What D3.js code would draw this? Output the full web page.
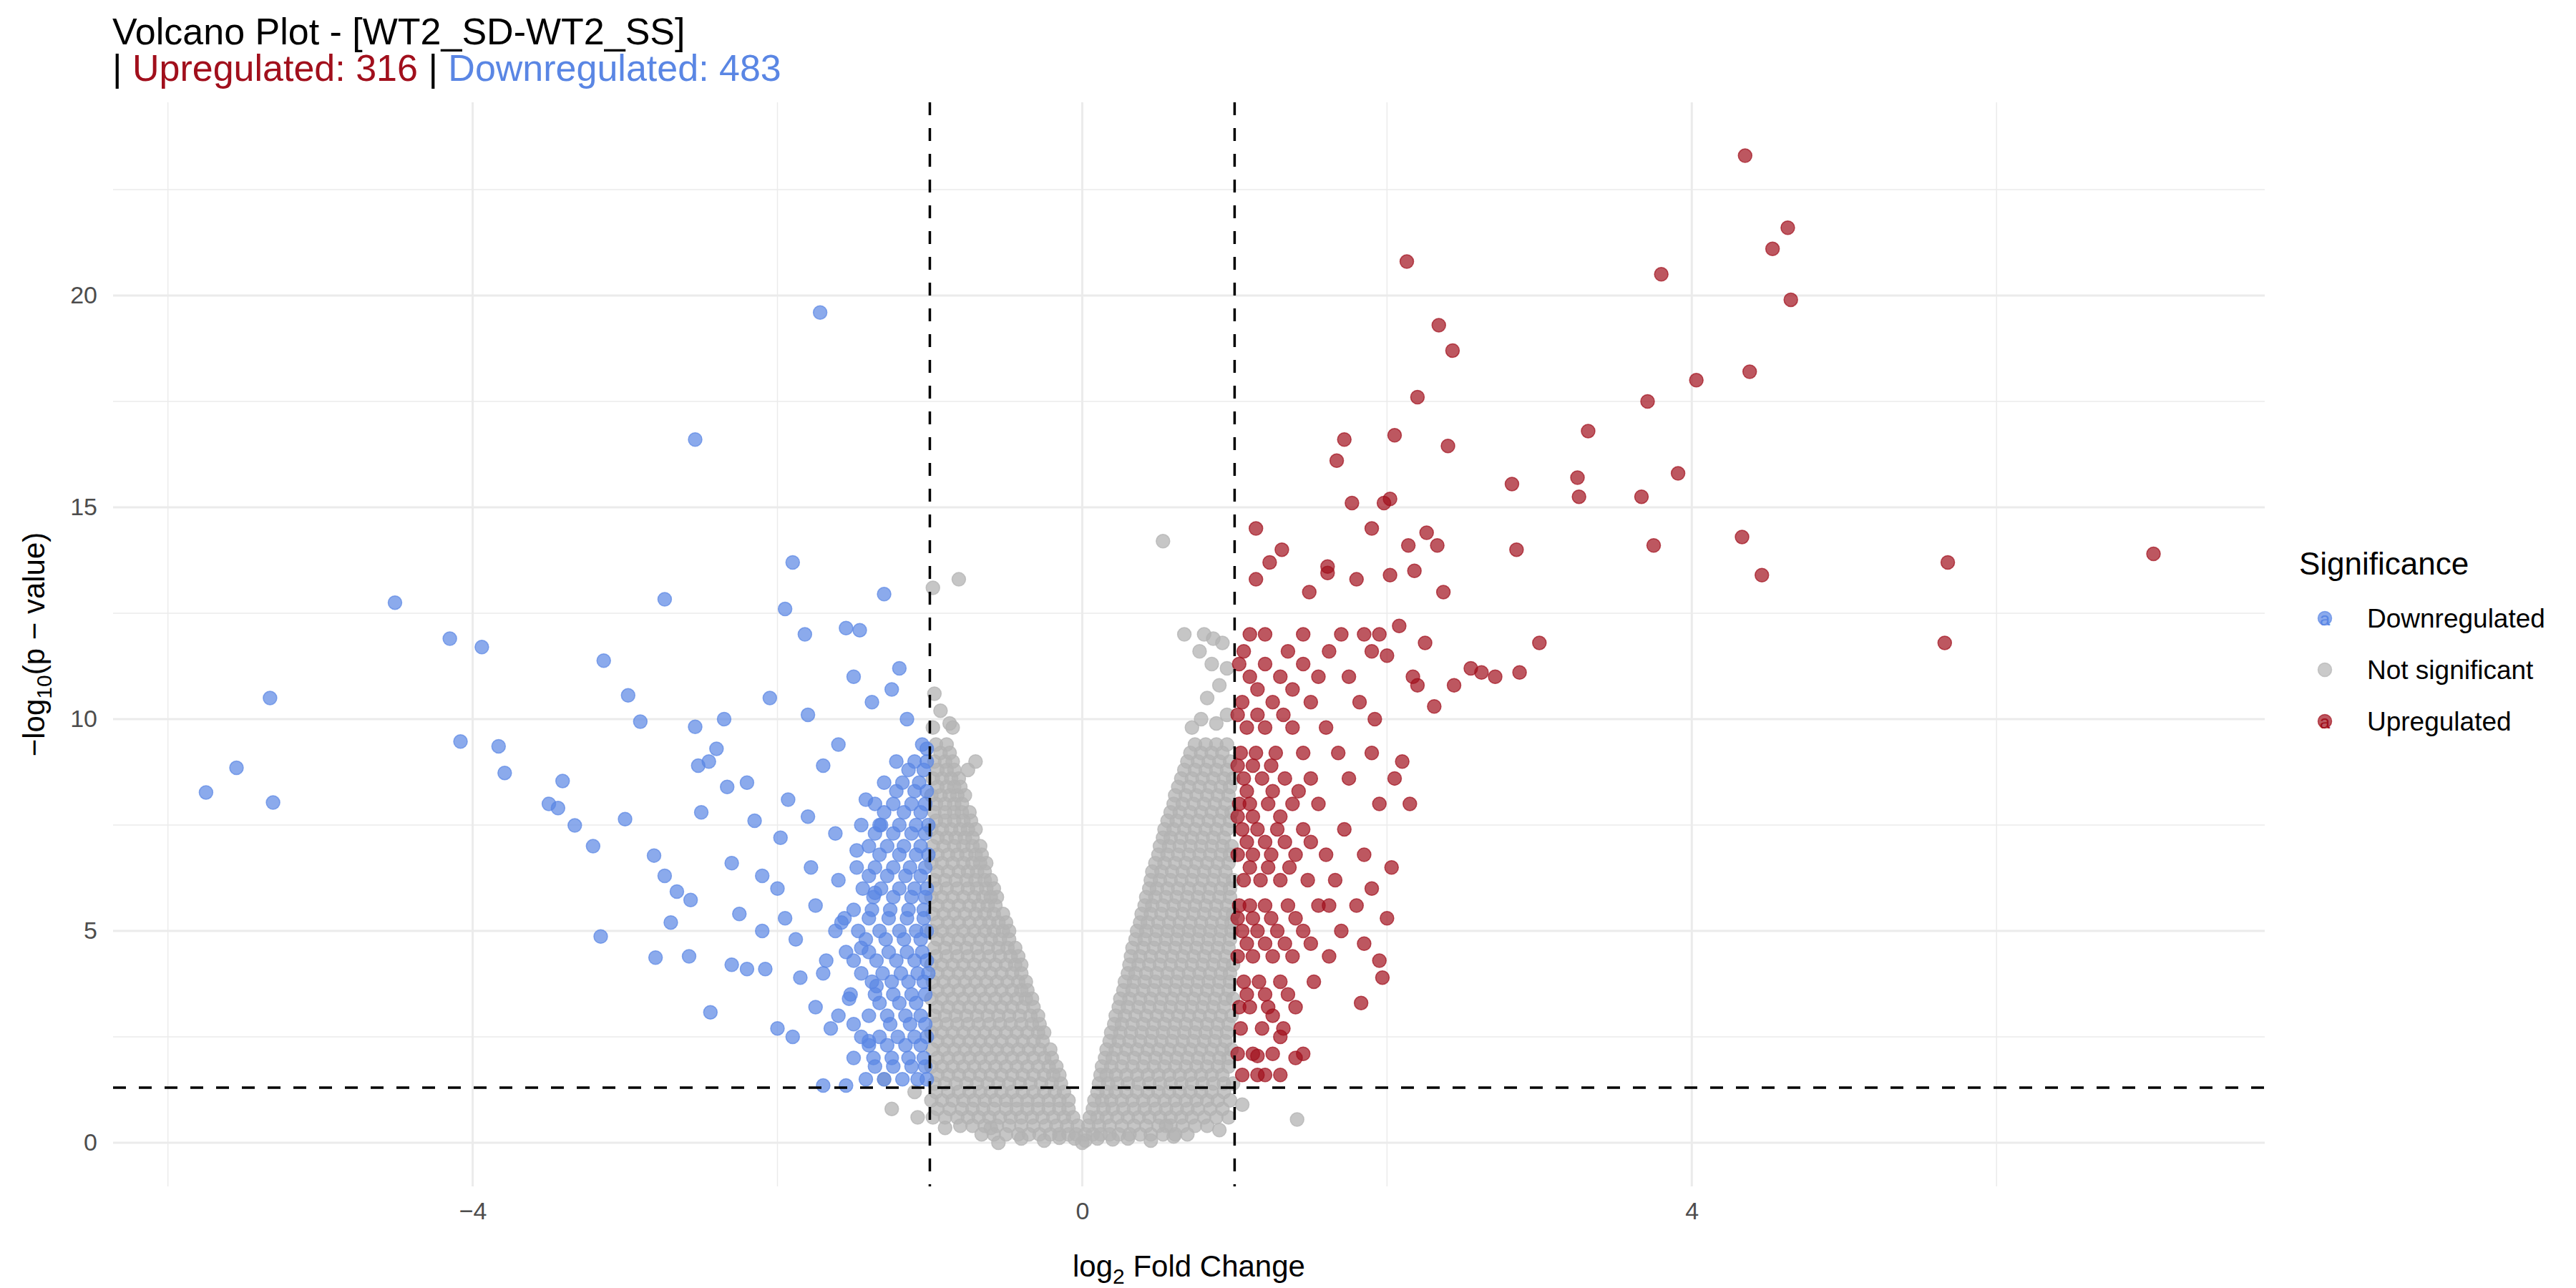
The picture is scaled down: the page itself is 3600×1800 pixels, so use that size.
<!DOCTYPE html>
<html>
<head>
<meta charset="utf-8">
<script src="https://cdn.jsdelivr.net/npm/d3@7"></script>
<style>
  body { margin: 0; background: #fff; }
  text { font-family: "Liberation Sans", Arial, sans-serif; }
</style>
</head>
<body>
<script>
// values
var xTicks = [-4, 0, 4];
var xMinor = [-6, -2, 2, 6];
var yTicks = [0, 5, 10, 15, 20];
var yMinor = [2.5, 7.5, 12.5, 17.5, 22.5];
var fcCut = [-1, 1];
var pCut = 1.3;
var counts = { up: 316, down: 483 };
var legendLabels = ["Downregulated", "Not significant", "Upregulated"];

// grey cloud, one row per -log10(p) band: [y, xs]
var greyBands = [
  [0.2, [-0.66,-0.58,-0.5,-0.42,-0.35,-0.28,-0.21,-0.15,-0.09,-0.04,0.02,0.07,0.12,0.18,0.24,0.31,0.38,0.45,0.53,0.61,0.69]],
  [0.6, [-0.98,-0.9,-0.82,-0.75,-0.68,-0.61,-0.54,-0.47,-0.4,-0.33,-0.26,-0.19,-0.12,-0.06,0.05,0.1,0.16,0.23,0.3,0.37,0.44,0.51,0.58,0.65,0.72,0.8,0.88,0.96]],
  [1.0, [-0.99,-0.92,-0.85,-0.78,-0.71,-0.64,-0.57,-0.5,-0.43,-0.36,-0.29,-0.22,-0.15,-0.09,0.08,0.13,0.19,0.26,0.33,0.4,0.47,0.54,0.61,0.68,0.75,0.82,0.89,0.97]],
  [1.4, [-0.97,-0.9,-0.83,-0.76,-0.69,-0.62,-0.55,-0.48,-0.41,-0.34,-0.27,-0.2,-0.14,0.11,0.17,0.23,0.3,0.37,0.44,0.51,0.58,0.65,0.72,0.79,0.86,0.93,0.99]],
  [1.8, [-0.99,-0.92,-0.85,-0.78,-0.71,-0.64,-0.57,-0.5,-0.43,-0.36,-0.29,-0.22,-0.17,0.13,0.19,0.26,0.33,0.4,0.47,0.54,0.61,0.68,0.75,0.82,0.89,0.96]],
  [2.2, [-0.98,-0.91,-0.84,-0.77,-0.7,-0.63,-0.56,-0.49,-0.42,-0.35,-0.28,-0.21,0.16,0.22,0.29,0.36,0.43,0.5,0.57,0.64,0.71,0.78,0.85,0.92,0.98]],
  [2.6, [-0.99,-0.92,-0.85,-0.78,-0.71,-0.64,-0.57,-0.5,-0.43,-0.36,-0.29,-0.25,0.19,0.25,0.32,0.39,0.46,0.53,0.6,0.67,0.74,0.81,0.88,0.95]],
  [3.0, [-0.97,-0.9,-0.83,-0.76,-0.69,-0.62,-0.55,-0.48,-0.41,-0.34,-0.29,0.22,0.28,0.35,0.42,0.49,0.56,0.63,0.7,0.77,0.84,0.91,0.98]],
  [3.4, [-0.99,-0.92,-0.85,-0.78,-0.71,-0.64,-0.57,-0.5,-0.43,-0.37,-0.33,0.25,0.31,0.38,0.45,0.52,0.59,0.66,0.73,0.8,0.87,0.94,0.99]],
  [3.8, [-0.98,-0.91,-0.84,-0.77,-0.7,-0.63,-0.56,-0.49,-0.42,-0.37,0.28,0.34,0.41,0.48,0.55,0.62,0.69,0.76,0.83,0.9,0.97]],
  [4.2, [-0.99,-0.92,-0.85,-0.78,-0.71,-0.64,-0.57,-0.5,-0.44,-0.4,0.31,0.37,0.44,0.51,0.58,0.65,0.72,0.79,0.86,0.93,0.99]],
  [4.6, [-0.97,-0.9,-0.83,-0.76,-0.69,-0.62,-0.55,-0.49,-0.44,0.33,0.4,0.47,0.54,0.61,0.68,0.75,0.82,0.89,0.96]],
  [5.0, [-0.99,-0.92,-0.85,-0.78,-0.71,-0.64,-0.58,-0.52,-0.48,0.36,0.42,0.49,0.56,0.63,0.7,0.77,0.84,0.91,0.98]],
  [5.4, [-0.98,-0.91,-0.84,-0.77,-0.7,-0.64,-0.58,-0.52,0.39,0.45,0.52,0.59,0.66,0.73,0.8,0.87,0.94,0.99]],
  [5.8, [-0.99,-0.92,-0.85,-0.78,-0.71,-0.65,-0.6,-0.56,0.42,0.48,0.55,0.62,0.69,0.76,0.83,0.9,0.97]],
  [6.2, [-0.97,-0.9,-0.83,-0.76,-0.7,-0.64,-0.6,0.45,0.51,0.58,0.65,0.72,0.79,0.86,0.93,0.99]],
  [6.6, [-0.99,-0.92,-0.85,-0.78,-0.72,-0.67,-0.63,0.48,0.54,0.61,0.68,0.75,0.82,0.89,0.96]],
  [7.0, [-0.98,-0.91,-0.84,-0.78,-0.72,-0.67,0.51,0.57,0.64,0.71,0.78,0.85,0.92,0.98]],
  [7.4, [-0.99,-0.92,-0.86,-0.8,-0.75,-0.7,0.54,0.6,0.67,0.74,0.81,0.88,0.95]],
  [7.8, [-0.97,-0.9,-0.84,-0.79,-0.74,0.58,0.64,0.71,0.78,0.85,0.92,0.98]],
  [8.2, [-0.99,-0.93,-0.87,-0.82,-0.77,0.61,0.68,0.75,0.82,0.89,0.96]],
  [8.6, [-0.98,-0.92,-0.86,-0.81,0.65,0.72,0.79,0.86,0.93,0.99]],
  [9.0, [-0.97,-0.9,-0.85,0.69,0.76,0.83,0.9,0.97]],
  [9.4, [-0.96,-0.89,0.74,0.81,0.88,0.95]],
  [0.4, [-0.8,-0.72,-0.64,-0.56,-0.48,-0.4,-0.32,-0.24,-0.17,-0.1,-0.03,0.04,0.11,0.18,0.26,0.34,0.42,0.5,0.58,0.66,0.74,0.82]],
  [0.8, [-0.95,-0.87,-0.79,-0.72,-0.65,-0.58,-0.5,-0.43,-0.36,-0.29,-0.22,-0.15,-0.09,0.07,0.14,0.2,0.27,0.34,0.41,0.48,0.55,0.62,0.69,0.76,0.84,0.92]],
  [1.2, [-0.96,-0.88,-0.81,-0.74,-0.67,-0.6,-0.53,-0.46,-0.39,-0.32,-0.25,-0.18,-0.12,0.1,0.16,0.22,0.29,0.36,0.43,0.5,0.57,0.64,0.71,0.78,0.85,0.93]],
  [1.6, [-0.95,-0.88,-0.81,-0.74,-0.67,-0.6,-0.53,-0.46,-0.39,-0.32,-0.25,-0.19,-0.15,0.12,0.16,0.22,0.29,0.36,0.43,0.5,0.57,0.64,0.71,0.78,0.85,0.92]],
  [2.0, [-0.95,-0.88,-0.81,-0.74,-0.67,-0.6,-0.53,-0.46,-0.39,-0.32,-0.25,-0.2,0.15,0.2,0.27,0.34,0.41,0.48,0.55,0.62,0.69,0.76,0.83,0.9,0.96]],
  [2.4, [-0.95,-0.88,-0.81,-0.74,-0.67,-0.6,-0.53,-0.46,-0.39,-0.32,-0.26,0.18,0.24,0.31,0.38,0.45,0.52,0.59,0.66,0.73,0.8,0.87,0.94]],
  [2.8, [-0.96,-0.89,-0.82,-0.75,-0.68,-0.61,-0.54,-0.47,-0.4,-0.33,-0.28,0.21,0.26,0.33,0.4,0.47,0.54,0.61,0.68,0.75,0.82,0.89,0.96]],
  [3.2, [-0.95,-0.88,-0.81,-0.74,-0.67,-0.6,-0.53,-0.46,-0.39,-0.32,0.24,0.3,0.37,0.44,0.51,0.58,0.65,0.72,0.79,0.86,0.93]],
  [3.6, [-0.95,-0.88,-0.81,-0.74,-0.67,-0.6,-0.53,-0.46,-0.4,-0.36,0.27,0.33,0.4,0.47,0.54,0.61,0.68,0.75,0.82,0.89,0.96]],
  [4.0, [-0.95,-0.88,-0.81,-0.74,-0.67,-0.6,-0.53,-0.46,-0.4,0.3,0.35,0.42,0.49,0.56,0.63,0.7,0.77,0.84,0.91,0.97]],
  [4.4, [-0.96,-0.89,-0.82,-0.75,-0.68,-0.61,-0.54,-0.47,-0.42,0.32,0.38,0.45,0.52,0.59,0.66,0.73,0.8,0.87,0.94]],
  [4.8, [-0.95,-0.88,-0.81,-0.74,-0.67,-0.6,-0.54,-0.48,0.35,0.41,0.48,0.55,0.62,0.69,0.76,0.83,0.9,0.97]],
  [5.2, [-0.95,-0.88,-0.81,-0.74,-0.67,-0.61,-0.55,-0.5,0.38,0.43,0.5,0.57,0.64,0.71,0.78,0.85,0.92,0.98]],
  [5.6, [-0.95,-0.88,-0.81,-0.74,-0.68,-0.62,-0.57,0.41,0.46,0.53,0.6,0.67,0.74,0.81,0.88,0.95]],
  [6.0, [-0.96,-0.89,-0.82,-0.75,-0.69,-0.63,-0.58,0.44,0.49,0.56,0.63,0.7,0.77,0.84,0.91,0.97]],
  [6.4, [-0.95,-0.88,-0.81,-0.75,-0.69,-0.64,0.46,0.52,0.59,0.66,0.73,0.8,0.87,0.94]],
  [6.8, [-0.95,-0.88,-0.82,-0.76,-0.7,-0.66,0.5,0.56,0.63,0.7,0.77,0.84,0.91,0.97]],
  [7.2, [-0.95,-0.89,-0.83,-0.77,-0.72,0.53,0.58,0.65,0.72,0.79,0.86,0.93]],
  [7.6, [-0.96,-0.9,-0.84,-0.78,-0.73,0.56,0.62,0.69,0.76,0.83,0.9,0.97]],
  [8.0, [-0.96,-0.9,-0.84,-0.79,0.6,0.66,0.73,0.8,0.87,0.94]],
  [8.4, [-0.95,-0.89,-0.84,-0.8,0.63,0.7,0.77,0.84,0.91,0.97]],
  [8.8, [-0.95,-0.89,-0.84,0.67,0.74,0.81,0.88,0.95]],
  [9.2, [-0.93,-0.87,0.71,0.78,0.85,0.92]]
];
var greyExtra = [[-0.98,9.8],[-0.85,9.8],[-0.93,10.2],[-0.97,10.6],[-0.87,9.9],[-0.7,9.0],[-0.75,8.8],
  [-0.81,13.3],[-0.98,13.1],[0.53,14.2],[0.67,12.0],[0.8,12.0],[0.86,11.9],[0.77,11.6],[0.92,11.8],
  [0.85,11.3],[0.95,11.2],[0.9,10.8],[0.82,10.5],[0.95,10.1],[0.72,9.8],[0.88,9.9],[0.78,10.0],
  [-1.1,1.2],[-1.3,1.5],[1.41,0.55],[1.05,0.9],[-1.08,0.6],[-1.25,0.8],[0.02,0.05],[-0.05,0.1],[0.1,0.1],
  [-0.15,0.12],[0.2,0.08],[-0.25,0.05],[0.3,0.1],[-0.4,0.1],[0.45,0.05],[-0.55,0.0],[0.6,0.15],[0.0,0.0],
  [-0.6,0.35],[0.55,0.4],[0.9,0.3],[-0.9,0.35]];

var bluePoints = [[-5.75,8.27],[-5.55,8.85],[-5.33,10.5],[-5.31,8.03],[-4.51,12.75],[-4.15,11.9],[-4.08,9.47],
  [-3.94,11.7],[-3.83,9.36],[-3.79,8.73],[-3.5,8.0],[-3.44,7.9],[-3.41,8.54],[-3.33,7.49],[-3.16,4.87],
  [-3.14,11.38],[-3.21,7.0],[-3.0,7.64],[-2.98,10.56],[-2.9,9.94],[-2.81,6.78],[-2.74,12.83],[-2.74,6.3],
  [-2.8,4.37],[-2.66,5.93],[-2.57,5.73],[-2.54,16.6],[-2.54,9.82],[-2.52,8.9],[-2.5,7.8],[-2.45,9.0],
  [-2.4,9.3],[-2.35,10.0],[-2.33,8.4],[-2.3,6.6],[-2.25,5.4],[-2.2,8.5],[-2.15,7.6],[-2.1,5.0],[-2.08,4.1],
  [-2.05,10.5],[-2.0,6.0],[-1.98,7.2],[-1.95,12.6],[-1.9,13.7],[-1.93,8.1],[-1.88,4.8],[-1.85,3.9],
  [-1.82,12.0],[-1.8,10.1],[-1.78,6.5],[-1.75,5.6],[-1.72,19.6],[-1.7,8.9],[-1.68,4.3],[-1.65,2.7],
  [-1.62,7.3],[-1.6,9.4],[-1.58,5.2],[-1.55,12.15],[-1.53,3.4],[-1.5,11.0],[-1.48,6.9],[-1.46,12.1],
  [-1.45,4.6],[-1.42,8.1],[-1.4,2.4],[-1.38,10.4],[-1.36,5.9],[-1.35,3.7],[-1.33,7.5],[-1.3,12.95],
  [-2.44,3.08],[-2.0,2.7],[-1.9,2.5],[-2.58,4.4],[-2.7,5.2],[-2.3,4.2],[-1.95,5.3],[-1.7,1.35],[-1.55,1.35],
  [-1.25,10.7],[-1.15,10.0],[-1.2,11.2],[-1.02,9.3],[-1.8,7.7],[-2.1,6.3],[-1.6,6.2],[-1.75,3.2],[-2.2,4.1]];
var blueBands = [
  [1.5, [-1.42,-1.3,-1.18,-1.08,-1.02]], [2.0, [-1.5,-1.37,-1.25,-1.14,-1.04]],
  [2.5, [-1.45,-1.33,-1.21,-1.1,-1.02]], [3.0, [-1.6,-1.4,-1.28,-1.16,-1.06]],
  [3.5, [-1.52,-1.36,-1.24,-1.12,-1.03]], [4.0, [-1.7,-1.45,-1.31,-1.19,-1.08,-1.01]],
  [4.5, [-1.55,-1.4,-1.27,-1.15,-1.05]], [5.0, [-1.62,-1.47,-1.33,-1.2,-1.09,-1.02]],
  [5.5, [-1.5,-1.38,-1.26,-1.14,-1.04]], [6.0, [-1.44,-1.32,-1.2,-1.1,-1.02]],
  [6.5, [-1.48,-1.36,-1.24,-1.13,-1.03]], [7.0, [-1.4,-1.28,-1.17,-1.06]],
  [7.5, [-1.45,-1.32,-1.2,-1.09,-1.01]], [8.0, [-1.36,-1.24,-1.12,-1.03]],
  [8.5, [-1.3,-1.18,-1.07]], [9.0, [-1.22,-1.1,-1.02]], [9.4, [-1.05]],
  [1.8, [-1.36,-1.24,-1.12,-1.03]], [2.3, [-1.4,-1.28,-1.16,-1.06]], [2.8, [-1.5,-1.26,-1.13,-1.03]],
  [3.3, [-1.33,-1.2,-1.09]], [3.8, [-1.38,-1.25,-1.14,-1.04]], [4.3, [-1.5,-1.35,-1.22,-1.1,-1.02]],
  [4.8, [-1.42,-1.29,-1.17,-1.06]], [5.3, [-1.56,-1.4,-1.27,-1.15,-1.04]], [5.8, [-1.37,-1.24,-1.12,-1.03]],
  [6.3, [-1.4,-1.28,-1.16,-1.06]], [6.8, [-1.33,-1.2,-1.09,-1.01]], [7.3, [-1.36,-1.24,-1.12,-1.03]],
  [7.8, [-1.3,-1.17,-1.06]], [8.3, [-1.22,-1.1,-1.02]], [8.8, [-1.14,-1.04]]
];

var redPoints = [[4.35,23.3],[4.63,21.6],[4.53,21.1],[4.65,19.9],[4.38,18.2],[4.03,18.0],[3.8,20.5],
  [2.13,20.8],[2.34,19.3],[2.43,18.7],[2.2,17.6],[2.05,16.7],[2.4,16.45],[1.72,16.6],[1.67,16.1],
  [3.32,16.8],[3.71,17.5],[3.91,15.8],[2.82,15.55],[3.25,15.7],[3.26,15.25],[3.67,15.25],[2.02,15.2],
  [1.98,15.1],[1.77,15.1],[1.9,14.5],[3.75,14.1],[4.33,14.3],[4.46,13.4],[5.68,13.7],[7.03,13.9],
  [5.66,11.8],[2.85,14.0],[2.26,14.4],[2.33,14.1],[2.37,13.0],[2.14,14.1],[2.18,13.5],[2.02,13.4],
  [1.8,13.3],[1.61,13.6],[1.61,13.45],[1.49,13.0],[1.31,14.0],[1.14,14.5],[1.23,13.7],[1.14,13.3],
  [3.0,11.8],[2.55,11.2],[2.62,11.1],[2.71,11.0],[2.87,11.1],[2.44,10.8],[2.31,10.3],[2.17,11.0],
  [2.08,12.2],[1.62,5.6],[1.95,4.3],[1.97,3.9],[1.83,3.3],[1.85,4.7],[2.05,8.6],[2.1,9.0],[2.0,5.3],
  [1.9,6.0],[2.15,8.0],[2.03,6.5],[1.2,1.6],[1.15,2.05],[1.4,2.0],[1.3,2.5],[1.25,3.0],[2.2,10.8],
  [2.0,11.5],[1.92,10.0],[2.25,11.8]];
var redBands = [
  [1.6, [1.05,1.15,1.3]], [2.1, [1.02,1.12,1.25,1.45]], [2.7, [1.04,1.18,1.32]],
  [3.2, [1.03,1.1,1.22,1.4]], [3.8, [1.06,1.16,1.3,1.52]], [4.4, [1.02,1.12,1.25,1.38,1.62]],
  [5.0, [1.05,1.15,1.28,1.45,1.7]], [5.6, [1.03,1.1,1.2,1.35,1.55,1.8]], [6.2, [1.06,1.17,1.3,1.48,1.66]],
  [6.8, [1.02,1.12,1.24,1.4,1.6,1.85]], [7.4, [1.05,1.15,1.28,1.45,1.72]],
  [8.0, [1.03,1.1,1.22,1.38,1.55,1.95]], [8.6, [1.06,1.18,1.33,1.5,1.75]],
  [9.2, [1.04,1.14,1.27,1.45,1.68,1.9]], [9.8, [1.08,1.2,1.38,1.6]], [10.4, [1.05,1.25,1.5,1.82]],
  [11.0, [1.1,1.3,1.55,1.75]], [11.6, [1.06,1.35,1.62,1.9]], [12.0, [1.1,1.2,1.45,1.7,1.85,1.95]],
  [3.5, [1.08,1.2,1.35]], [4.7, [1.08,1.2,1.33,1.5]], [5.3, [1.02,1.12,1.24,1.4]], [6.5, [1.1,1.22,1.36]],
  [7.1, [1.08,1.2,1.33,1.5]], [7.7, [1.02,1.12,1.3]], [8.3, [1.08,1.25,1.42]], [8.9, [1.02,1.12,1.24]],
  [10.1, [1.02,1.15,1.32]], [10.7, [1.15,1.38]], [11.3, [1.03,1.2,1.45]]
];

var BLUE = "#5a86e4", RED = "#a10f1c", GREY = "#b3b3b3";
var R = 9.5;

function fromBands(bands) {
  var out = [];
  bands.forEach(function(b) { b[1].forEach(function(x) { out.push([x, b[0]]); }); });
  return out;
}

var W = 3600, H = 1800;
var m = { left: 158, right: 3165, top: 143, bottom: 1658 };

var svg = d3.select("body").append("svg")
  .attr("width", W).attr("height", H);

var x = d3.scaleLinear().domain([-6.36, 7.76]).range([m.left, m.right]);
var y = d3.scaleLinear().domain([-1.03, 24.56]).range([m.bottom, m.top]);

var grid = svg.append("g");
grid.selectAll(".minx").data(xMinor).enter().append("line")
  .attr("x1", x).attr("x2", x).attr("y1", m.top).attr("y2", m.bottom)
  .attr("stroke", "#ebebeb").attr("stroke-width", 1.5);
grid.selectAll(".miny").data(yMinor).enter().append("line")
  .attr("y1", y).attr("y2", y).attr("x1", m.left).attr("x2", m.right)
  .attr("stroke", "#ebebeb").attr("stroke-width", 1.5);
grid.selectAll(".majx").data(xTicks).enter().append("line")
  .attr("x1", x).attr("x2", x).attr("y1", m.top).attr("y2", m.bottom)
  .attr("stroke", "#ebebeb").attr("stroke-width", 3);
grid.selectAll(".majy").data(yTicks).enter().append("line")
  .attr("y1", y).attr("y2", y).attr("x1", m.left).attr("x2", m.right)
  .attr("stroke", "#ebebeb").attr("stroke-width", 3);

function dots(data, col, op) {
  svg.append("g").selectAll("circle").data(data).enter().append("circle")
    .attr("cx", function(d) { return x(d[0]); })
    .attr("cy", function(d) { return y(d[1]); })
    .attr("r", R)
    .attr("fill", col).attr("fill-opacity", op)
    .attr("stroke", col).attr("stroke-opacity", op).attr("stroke-width", 1.5);
}
dots(fromBands(greyBands).concat(greyExtra), GREY, 0.75);
dots(fromBands(blueBands).concat(bluePoints), BLUE, 0.7);
dots(fromBands(redBands).concat(redPoints), RED, 0.7);

// threshold lines
svg.selectAll(".vcut").data(fcCut).enter().append("line")
  .attr("x1", x).attr("x2", x).attr("y1", m.top).attr("y2", m.bottom)
  .attr("stroke", "#000").attr("stroke-width", 3.5).attr("stroke-dasharray", "18,18");
svg.append("line")
  .attr("x1", m.left).attr("x2", m.right).attr("y1", y(pCut)).attr("y2", y(pCut))
  .attr("stroke", "#000").attr("stroke-width", 3.5).attr("stroke-dasharray", "18,18");

// axes
var xAxis = svg.append("g").attr("transform", "translate(0," + m.bottom + ")")
  .call(d3.axisBottom(x).tickValues(xTicks).tickSize(0).tickPadding(22));
var yAxis = svg.append("g").attr("transform", "translate(" + m.left + ",0)")
  .call(d3.axisLeft(y).tickValues(yTicks).tickSize(0).tickPadding(22));
[xAxis, yAxis].forEach(function(a) {
  a.select(".domain").remove();
  a.selectAll("text").attr("font-size", 34).attr("fill", "#4d4d4d")
    .attr("font-family", "Liberation Sans, Arial, sans-serif");
});

var xl = svg.append("text").attr("x", (m.left + m.right) / 2).attr("y", 1784)
  .attr("text-anchor", "middle").attr("font-size", 42);
xl.append("tspan").text("log");
xl.append("tspan").text("2").attr("font-size", 30).attr("dy", 10);
xl.append("tspan").text(" Fold Change").attr("dy", -10);

var yl = svg.append("text").attr("transform", "translate(62," + ((m.top + m.bottom) / 2) + ") rotate(-90)")
  .attr("text-anchor", "middle").attr("font-size", 42);
yl.append("tspan").text("\u2212log");
yl.append("tspan").text("10").attr("font-size", 30).attr("dy", 10);
yl.append("tspan").text("(p \u2212 value)").attr("dy", -10);

// title
svg.append("text").attr("x", 157).attr("y", 62).attr("font-size", 52)
  .text("Volcano Plot - [WT2_SD-WT2_SS]");
var sub = svg.append("text").attr("x", 157).attr("y", 113).attr("font-size", 52);
sub.append("tspan").text("| ");
sub.append("tspan").attr("fill", RED).text("Upregulated: " + counts.up);
sub.append("tspan").text(" | ");
sub.append("tspan").attr("fill", BLUE).text("Downregulated: " + counts.down);

// legend
var lg = svg.append("g");
lg.append("text").attr("x", 3213).attr("y", 803).attr("font-size", 44).text("Significance");
var legCols = [BLUE, GREY, RED];
legendLabels.forEach(function(lab, i) {
  var cy = 864 + i * 72;
  lg.append("circle").attr("cx", 3249).attr("cy", cy).attr("r", R)
    .attr("fill", legCols[i]).attr("fill-opacity", 0.7)
    .attr("stroke", legCols[i]).attr("stroke-opacity", 0.7).attr("stroke-width", 1.5);
  if (i !== 1) {
    lg.append("text").attr("x", 3249).attr("y", cy + 10).attr("text-anchor", "middle")
      .attr("font-size", 26).attr("fill", legCols[i]).text("a");
  }
  lg.append("text").attr("x", 3308).attr("y", cy + 13).attr("font-size", 37).text(lab);
});
</script>
</body>
</html>
